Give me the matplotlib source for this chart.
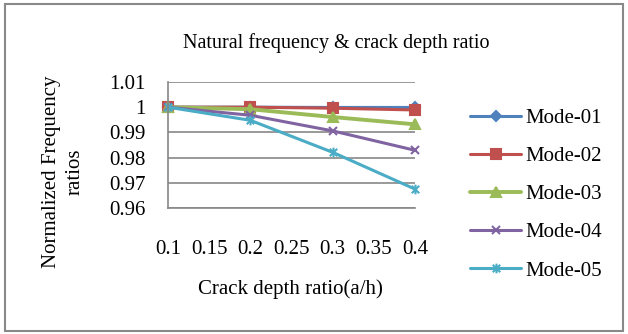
import matplotlib
matplotlib.use("Agg")
import matplotlib.pyplot as plt
from matplotlib.path import Path
from matplotlib.patches import Rectangle

plt.rcParams['font.family'] = ['Liberation Serif', 'DejaVu Serif']

crack_ratio = [0.1, 0.2, 0.3, 0.4]
mode_01 = [1.0, 1.0, 0.9999, 0.9999]
mode_02 = [1.0, 1.0, 0.9996, 0.9989]
mode_03 = [1.0, 0.9992, 0.9961, 0.9932]
mode_04 = [1.0, 0.9968, 0.9906, 0.9829]
mode_05 = [1.0, 0.9948, 0.9821, 0.9675]
series_names = ["Mode-01", "Mode-02", "Mode-03", "Mode-04", "Mode-05"]
x_ticks = [0.1, 0.15, 0.2, 0.25, 0.3, 0.35, 0.4]
x_tick_labels = ["0.1", "0.15", "0.2", "0.25", "0.3", "0.35", "0.4"]
y_ticks = [0.96, 0.97, 0.98, 0.99, 1.0, 1.01]
y_tick_labels = ["0.96", "0.97", "0.98", "0.99", "1", "1.01"]

# star marker: x with vertical bar
star = Path([(-1, -1), (1, 1), (-1, 1), (1, -1), (0, -1.3), (0, 1.3)],
            [Path.MOVETO, Path.LINETO, Path.MOVETO, Path.LINETO, Path.MOVETO, Path.LINETO])

colors = ['#4F81BD', '#C0504D', '#9BBB59', '#8064A2', '#4BACC6']
markers = ['D', 's', '^', 'x', star]
msizes = [5, 7, 7, 6, 7]
lwidths = [2.2, 2.2, 2.8, 2.2, 2.2]

fig = plt.figure(figsize=(6.28, 3.34), dpi=100)
ax = fig.add_axes([168/628, 1-208/334, (415-168)/628, (208-82)/334])

data = [mode_01, mode_02, mode_03, mode_04, mode_05]
for vals, name, c, m, ms, lw in zip(data, series_names, colors, markers, msizes, lwidths):
    ax.plot(crack_ratio, vals, color=c, marker=m, markersize=ms, linewidth=lw,
            markeredgecolor=c, markerfacecolor=c, markeredgewidth=1.5, label=name,
            solid_capstyle='round', clip_on=False)

ax.set_xlim(0.1, 0.4)
ax.set_ylim(0.96, 1.01)
ax.set_xticks(x_ticks)
ax.set_xticklabels(x_tick_labels)
ax.set_yticks(y_ticks)
ax.set_yticklabels(y_tick_labels)
ax.tick_params(axis='x', length=0, pad=23, labelsize=15)
ax.tick_params(axis='y', length=0, pad=16, labelsize=15)
ax.yaxis.grid(True, color='#878787', linewidth=1.2)
ax.set_axisbelow(True)
for s in ['top', 'right']:
    ax.spines[s].set_visible(False)
for s in ['left', 'bottom']:
    ax.spines[s].set_color('#878787')
    ax.spines[s].set_linewidth(1.2)

fig.text(336/628, 1-43/334, "Natural frequency & crack depth ratio", ha='center', va='center', fontsize=14.5)
fig.text(290/628, 1-289/334, "Crack depth ratio(a/h)", ha='center', va='center', fontsize=15)
fig.text(63/628, 1-172/334, "Normalized Frequency\nratios", ha='center', va='center', rotation=90,
         fontsize=15, multialignment='center', linespacing=1.3)

fig.legend(loc='center left', bbox_to_anchor=(470/628, 1-194.5/334), frameon=False,
           fontsize=15, handlelength=2.45, handletextpad=0.2, labelspacing=0.89,
           borderpad=0, borderaxespad=0)

fig.patches.append(Rectangle((5/628, 3/334), 618/628, 327/334, transform=fig.transFigure,
                             fill=False, edgecolor='#898989', linewidth=1.5))

fig.savefig("out.png", dpi=100)
